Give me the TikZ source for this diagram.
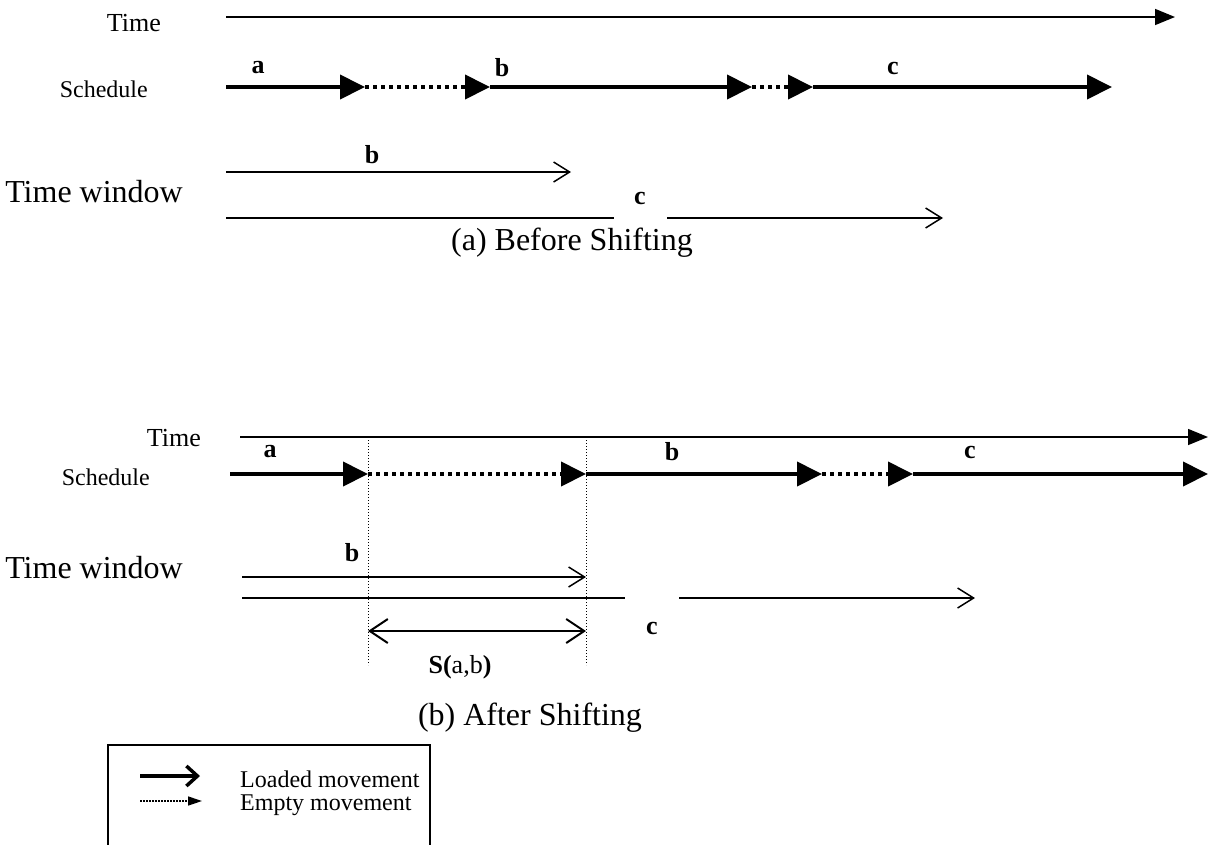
\documentclass[tikz,border=0pt]{standalone}
\usepackage{fontspec}
\setmainfont{Liberation Serif}
\usetikzlibrary{arrows.meta}
\begin{document}
\begin{tikzpicture}[x=1pt,y=-1pt,
  timelabel/.style={font=\fontsize{26}{29}\selectfont, inner sep=0pt, anchor=east},
  rowlabel/.style={font=\fontsize{24}{27}\selectfont, inner sep=0pt, anchor=east},
  bigtext/.style={font=\fontsize{32}{35}\selectfont, inner sep=0pt},
  seglabel/.style={font=\fontsize{26}{29}\selectfont\bfseries, inner sep=0pt},
  keytext/.style={font=\fontsize{24}{27}\selectfont, inner sep=0pt, anchor=west},
  timeline/.style={line width=1.5pt, -{Triangle[length=20pt,width=16pt]}},
  loaded/.style={line width=4pt, -{Triangle[length=25pt,width=24pt]}},
  empty/.style={line width=4pt, dash pattern=on 4pt off 4pt, -{Triangle[length=25pt,width=24pt]}},
  window/.style={line width=1.5pt, -{Straight Barb[length=16pt,width=20pt,line width=1.5pt]}},
  plainline/.style={line width=1.5pt},
  guide/.style={line width=1pt, dash pattern=on 1pt off 2pt},
  shiftarrow/.style={line width=2pt, {Straight Barb[length=18pt,width=24pt,line width=2pt]}-{Straight Barb[length=18pt,width=24pt,line width=2pt]}}
]
\useasboundingbox (0,0) rectangle (1212,844);

% ---------- (a) before shifting ----------
\node[timelabel] (timeA) at (161,23) {Time};
\coordinate (tA0) at (226,17);
\coordinate (tA1) at (1175,17);
\draw[timeline] (tA0) -- (tA1);

\node[rowlabel] (schedA) at (148,89) {Schedule};
\coordinate (sA0) at (226,87);
\coordinate (sA1) at (365,87);
\coordinate (sA2) at (490,87);
\coordinate (sA3) at (752,87);
\coordinate (sA4) at (813,87);
\coordinate (sA5) at (1112,87);
\draw[loaded] (sA0) -- (sA1);
\draw[empty] (sA1) -- (sA2);
\draw[loaded] (sA2) -- (sA3);
\draw[empty] (sA3) -- (sA4);
\draw[loaded] (sA4) -- (sA5);
\node[seglabel] (laA) at (258,68) {a};
\node[seglabel] (lbA) at (502,68) {b};
\node[seglabel] (lcA) at (893,68) {c};

\node[bigtext, anchor=east] (twA) at (183,192) {Time window};
\coordinate (wbA0) at (226,172);
\coordinate (wbA1) at (571,172);
\draw[window] (wbA0) -- (wbA1);
\node[seglabel] (wlbA) at (372,155) {b};
\coordinate (wcA0) at (226,218);
\coordinate (wcAg1) at (614,218);
\coordinate (wcAg2) at (667,218);
\coordinate (wcA1) at (943,218);
\draw[plainline] (wcA0) -- (wcAg1);
\draw[window] (wcAg2) -- (wcA1);
\node[seglabel] (wlcA) at (640,198) {c};

\node[bigtext] (capA) at (572,243) {(a) Before Shifting};

% ---------- (b) after shifting ----------
\node[timelabel] (timeB) at (201,438) {Time};
\coordinate (tB0) at (240,437);
\coordinate (tB1) at (1208,437);
\draw[timeline] (tB0) -- (tB1);

\node[rowlabel] (schedB) at (150,477) {Schedule};
\coordinate (sB0) at (230,474);
\coordinate (sB1) at (368,474);
\coordinate (sB2) at (586,474);
\coordinate (sB3) at (822,474);
\coordinate (sB4) at (913,474);
\coordinate (sB5) at (1208,474);
\draw[loaded] (sB0) -- (sB1);
\draw[empty] (sB1) -- (sB2);
\draw[loaded] (sB2) -- (sB3);
\draw[empty] (sB3) -- (sB4);
\draw[loaded] (sB4) -- (sB5);
\node[seglabel] (laB) at (270,452) {a};
\node[seglabel] (lbB) at (672,452) {b};
\node[seglabel] (lcB) at (970,452) {c};

% shift guides
\coordinate (gL0) at (368,437);
\coordinate (gL1) at (368,665);
\coordinate (gR0) at (586,437);
\coordinate (gR1) at (586,665);
\draw[guide] (gL0) -- (gL1);
\draw[guide] (gR0) -- (gR1);

\node[bigtext, anchor=east] (twB) at (183,568) {Time window};
\coordinate (wbB0) at (242,577);
\coordinate (wbB1) at (586,577);
\draw[window] (wbB0) -- (wbB1);
\node[seglabel] (wlbB) at (352,553) {b};
\coordinate (wcB0) at (242,598);
\coordinate (wcBg1) at (625,598);
\coordinate (wcBg2) at (679,598);
\coordinate (wcB1) at (975,598);
\draw[plainline] (wcB0) -- (wcBg1);
\draw[window] (wcBg2) -- (wcB1);
\node[seglabel] (wlcB) at (652,628) {c};

\coordinate (dL) at (368,631);
\coordinate (dR) at (586,631);
\draw[shiftarrow] (dL) -- (dR);
\node[font=\fontsize{26}{29}\selectfont, inner sep=0pt] (sab) at (460,667) {\textbf{S(}a,b\textbf{)}};

\node[bigtext] (capB) at (530,718) {(b) After Shifting};

% ---------- legend ----------
\coordinate (bxL) at (108,850);
\coordinate (bxR) at (430,850);
\draw[line width=1.5pt] (bxL) |- (bxR |- 0,745) -- (bxR);
\coordinate (kl0) at (140,776);
\coordinate (kl1) at (200,776);
\draw[line width=3.5pt, -{Straight Barb[length=11pt,width=20pt,line width=3.5pt]}] (kl0) -- (kl1);
\node[keytext] (klt) at (240,779) {Loaded movement};
\coordinate (ke0) at (140,801);
\coordinate (ke1) at (202,801);
\draw[line width=1.5pt, dash pattern=on 1.5pt off 1.5pt, -{Triangle[length=14pt,width=9pt]}] (ke0) -- (ke1);
\node[keytext] (ket) at (240,805) {Empty movement};
\end{tikzpicture}
\end{document}
